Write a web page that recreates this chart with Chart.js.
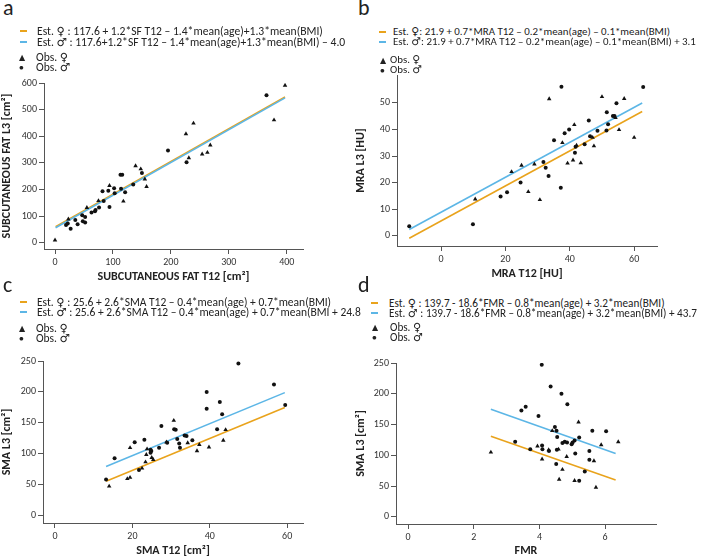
<!DOCTYPE html>
<html>
<head>
<meta charset="utf-8">
<script src="https://cdn.jsdelivr.net/npm/chart.js@4.4.1/dist/chart.umd.min.js"></script>
<style>
  body { margin: 0; width: 708px; height: 556px; position: relative; overflow: hidden; background: #fff;
         font-family: Carlito, Lato, "DejaVu Sans", sans-serif; color: #222; }
  canvas { position: absolute; }
  .letter { position: absolute; font-size: 22px; line-height: 22px; }
  .row { position: absolute; font-size: 11.6px; line-height: 12px; white-space: nowrap; }
  .dash { position: absolute; width: 7px; height: 2px; }
  .mark { position: absolute; font-size: 8px; line-height: 12px; }
</style>
</head>
<body>
<canvas id="chartA"></canvas>
<canvas id="chartB"></canvas>
<canvas id="chartC"></canvas>
<canvas id="chartD"></canvas>
<script>
// ---- panel a : subcutaneous fat ----
const aObsFemale = [[0,10],[23,89],[55,132],[75,158],[94,215],[118,156],[139,289],[148,277],[155,239],[158,211],
  [226,409],[231,319],[239,449],[254,333],[263,339],[268,367],[378,461],[397,591]];
const aObsMale = [[19,67],[22,73],[27,53],[35,86],[39,70],[47,104],[48,81],[52,76],[52,97],[63,114],[69,119],[70,123],
  [76,133],[82,194],[84,157],[92,196],[94,135],[102,205],[103,186],[114,203],[113,256],[116,256],[121,190],[135,219],
  [150,262],[195,347],[227,303],[365,554]];
const aEstX = [1, 397];
const aEstFemale = [61, 548];
const aEstMale = [57, 544];
const aXTicks = [0, 100, 200, 300, 400];
const aYTicks = [0, 100, 200, 300, 400, 500, 600];

// ---- panel b : muscle radiation attenuation ----
const bObsFemale = [[10.6,13.8],[21.9,24.1],[25,26.5],[27.1,16.6],[29,27],[30.7,13.6],[33.6,51.5],[37.7,35],[39.3,27.3],
  [41,28.5],[41.4,41.8],[42.1,34],[43.4,27.4],[47.1,37],[47.5,33.8],[50,52.3],[54.2,44.4],[55.3,39.9],[56.9,51.6],[60,37]];
const bObsMale = [[-9.9,3.6],[9.9,4.4],[18.5,14.8],[20.5,16.4],[24.7,20.1],[31.8,27.8],[32.5,25.6],[33.4,22.5],[35.1,36],
  [37.2,18.1],[37.4,56.1],[38.4,38.6],[39.8,40],[41.6,31.3],[41.8,33.5],[44.6,34.5],[45.9,43.4],[46.3,37.5],[48.6,39.5],
  [51.4,39.6],[51.5,46.5],[51.9,42],[53.4,45.1],[53.9,45.1],[54.5,49.9],[62.8,56]];
const bEstX = [-9.9, 62.5];
const bEstFemale = [-0.9, 46.8];
const bEstMale = [2.4, 50];
const bXTicks = [0, 20, 40, 60];
const bYTicks = [0, 10, 20, 30, 40, 50];

// ---- panel c : skeletal muscle area ----
const cObsFemale = [[14,48],[18.7,60],[19.4,62],[19.4,110],[22.5,77],[23.4,87],[23.6,99],[23.8,108],[25,94],[25.4,91],
  [28.8,119],[30.7,154],[34.3,118],[36.7,105],[37.3,115],[39.8,111],[43.5,122],[44.1,139]];
const cObsMale = [[13.2,59],[15.4,93],[20.6,119],[21.7,74],[23.1,123],[24.7,107],[24.9,105],[24.7,102],[26.9,110],
  [27.5,145],[29,118],[30.8,140],[31.2,139],[31.6,124],[32.1,117],[32.3,110],[33.5,130],[34,129],[35.5,122],[39.2,200],
  [39.2,173],[41.9,140],[42.6,184],[43.2,164],[47.4,246],[56.6,212],[59.5,179]];
const cEstX = [13.2, 59.4];
const cEstFemale = [56, 175];
const cEstMale = [80, 199];
const cXTicks = [0, 20, 40, 60];
const cYTicks = [0, 50, 100, 150, 200, 250];

// ---- panel d : fat muscle ratio ----
const dObsFemale = [[2.52,105],[3.94,115],[4.08,94],[4.28,109],[4.39,140],[4.58,110],[4.6,61],[4.7,77],[4.83,98],
  [5.07,59],[5.19,154],[5.66,91],[5.72,48],[5.88,117],[6.4,122]];
const dObsMale = [[3.26,122],[3.45,173],[3.58,179],[3.72,110],[3.97,164],[4.07,247],[4.08,116],[4.09,110],[4.29,107],
  [4.34,212],[4.47,146],[4.51,86],[4.52,140],[4.54,130],[4.53,109],[4.67,200],[4.7,120],[4.77,122],[4.84,121],[4.85,183],
  [4.98,118],[5.01,121],[5.07,124],[5.09,103],[5.21,129],[5.21,59],[5.38,74],[5.52,107],[5.52,93],[5.61,140],[6.03,139]];
const dEstX = [2.52, 6.32];
const dEstFemale = [131, 60];
const dEstMale = [175, 103];
const dXTicks = [0, 2, 4, 6];
const dYTicks = [0, 50, 100, 150, 200, 250];

const legendA = ['Est. \u2640 : 117.6 + 1.2*SF T12 \u2013 1.4*mean(age)+1.3*mean(BMI)',
  'Est. \u2642 : 117.6+1.2*SF T12 \u2013 1.4*mean(age)+1.3*mean(BMI) \u2013 4.0'];
const legendB = ['Est. \u2640: 21.9 + 0.7*MRA T12 \u2013 0.2*mean(age) \u2013 0.1*mean(BMI)',
  'Est. \u2642: 21.9 + 0.7*MRA T12 \u2013 0.2*mean(age) \u2013 0.1*mean(BMI) + 3.1'];
const legendC = ['Est. \u2640 : 25.6 + 2.6*SMA T12 \u2013 0.4*mean(age) + 0.7*mean(BMI)',
  'Est. \u2642 : 25.6 + 2.6*SMA T12 \u2013 0.4*mean(age) + 0.7*mean(BMI + 24.8'];
const legendD = ['Est. \u2640 : 139.7 - 18.6*FMR \u2013 0.8*mean(age) + 3.2*mean(BMI)',
  'Est. \u2642 : 139.7 - 18.6*FMR \u2013 0.8*mean(age) + 3.2*mean(BMI) + 43.7'];

const ORANGE = '#E9A31C';
const BLUE = '#5CB6E6';
const AXIS = '#555';
const FONT = 'Carlito, Lato, sans-serif';

function toPoints(pairs) {
  return pairs.map(([x, y]) => ({ x, y }));
}

function toLine(xs, ys) {
  return xs.map((x, i) => ({ x, y: ys[i] }));
}

function axis(min, max, ticks, title, fitSize, isX) {
  return {
    type: 'linear',
    position: isX ? 'bottom' : 'left',
    min: min,
    max: max,
    afterBuildTicks: scale => { scale.ticks = ticks.map(v => ({ value: v })); },
    afterFit: scale => { if (isX) scale.height = fitSize; else scale.width = fitSize; },
    border: { display: true, color: AXIS, width: 1 },
    grid: { drawOnChartArea: false, drawTicks: true, tickLength: 5, color: AXIS },
    ticks: { autoSkip: false, maxRotation: 0, padding: 2, color: '#333', font: { family: FONT, size: 10 } },
    title: { display: true, text: title, color: '#222', padding: 0, font: { family: FONT, size: 12, weight: 'bold' } }
  };
}

// box = canvas position on the page, area = wanted plot area on the page
function buildPanel(id, box, area, yW, xH, p) {
  const el = document.getElementById(id);
  el.style.left = box.left + 'px';
  el.style.top = box.top + 'px';
  el.width = box.width;
  el.height = box.height;
  return new Chart(el, {
    type: 'scatter',
    data: {
      datasets: [
        { data: toPoints(p.female), pointStyle: 'triangle', pointRadius: 2.6, backgroundColor: '#111', borderWidth: 0 },
        { data: toPoints(p.male), pointStyle: 'circle', pointRadius: 2, backgroundColor: '#111', borderWidth: 0 },
        { data: toLine(p.estX, p.estMale), showLine: true, borderColor: BLUE, borderWidth: 1.6, pointRadius: 0 },
        { data: toLine(p.estX, p.estFemale), showLine: true, borderColor: ORANGE, borderWidth: 1.6, pointRadius: 0 }
      ]
    },
    options: {
      responsive: false,
      animation: false,
      devicePixelRatio: 1,
      layout: {
        padding: {
          left: area.left - box.left - yW,
          top: area.top - box.top,
          right: box.left + box.width - area.right,
          bottom: box.top + box.height - area.bottom - xH
        }
      },
      plugins: { legend: { display: false }, tooltip: { enabled: false } },
      scales: {
        x: axis(p.xRange[0], p.xRange[1], p.xTicks, p.xTitle, xH, true),
        y: axis(p.yRange[0], p.yRange[1], p.yTicks, p.yTitle, yW, false)
      }
    }
  });
}

function addText(cls, left, top, text, size) {
  const div = document.createElement('div');
  div.className = cls;
  div.style.left = left + 'px';
  div.style.top = top + 'px';
  if (size) div.style.fontSize = size + 'px';
  div.textContent = text;
  document.body.appendChild(div);
}

// rows = centre y of the four legend rows
function addLegend(texts, dashX, textX, markX, obsX, rows, size) {
  [ORANGE, BLUE].forEach((color, i) => {
    const dash = document.createElement('div');
    dash.className = 'dash';
    dash.style.left = dashX + 'px';
    dash.style.top = (rows[i] - 1) + 'px';
    dash.style.background = color;
    document.body.appendChild(dash);
    addText('row', textX, rows[i] - 6, texts[i], size);
  });
  addText('mark', markX, rows[2] - 6, '\u25B2');
  addText('row', obsX, rows[2] - 6, 'Obs. \u2640', size);
  addText('mark', markX, rows[3] - 6, '\u25CF');
  addText('row', obsX, rows[3] - 6, 'Obs. \u2642', size);
}

buildPanel('chartA', { left: 0, top: 70, width: 354, height: 230 }, { left: 44, top: 83, right: 303, bottom: 249 }, 44, 35, {
  female: aObsFemale, male: aObsMale, estX: aEstX, estFemale: aEstFemale, estMale: aEstMale,
  xRange: [-19, 428], yRange: [-23, 600], xTicks: aXTicks, yTicks: aYTicks,
  xTitle: 'SUBCUTANEOUS FAT T12 [cm\u00B2]', yTitle: 'SUBCUTANEOUS FAT L3 [cm\u00B2]'
});
buildPanel('chartB', { left: 354, top: 62, width: 354, height: 230 }, { left: 397, top: 75, right: 657, bottom: 246 }, 43, 35, {
  female: bObsFemale, male: bObsMale, estX: bEstX, estFemale: bEstFemale, estMale: bEstMale,
  xRange: [-13.7, 67.1], yRange: [-3.8, 60.5], xTicks: bXTicks, yTicks: bYTicks,
  xTitle: 'MRA T12 [HU]', yTitle: 'MRA L3 [HU]'
});
buildPanel('chartC', { left: 0, top: 348, width: 354, height: 212 }, { left: 43, top: 361, right: 303, bottom: 523 }, 43, 35, {
  female: cObsFemale, male: cObsMale, estX: cEstX, estFemale: cEstFemale, estMale: cEstMale,
  xRange: [-3.1, 64.1], yRange: [-11.3, 250], xTicks: cXTicks, yTicks: cYTicks,
  xTitle: 'SMA T12 [cm\u00B2]', yTitle: 'SMA L3 [cm\u00B2]'
});
buildPanel('chartD', { left: 354, top: 348, width: 354, height: 212 }, { left: 396, top: 363, right: 656, bottom: 524 }, 42, 34, {
  female: dObsFemale, male: dObsMale, estX: dEstX, estFemale: dEstFemale, estMale: dEstMale,
  xRange: [-0.37, 7.55], yRange: [-11.4, 250], xTicks: dXTicks, yTicks: dYTicks,
  xTitle: 'FMR', yTitle: 'SMA L3 [cm\u00B2]'
});

addText('letter', 3, -3, 'a');
addText('letter', 358, -3, 'b');
addText('letter', 3, 274, 'c');
addText('letter', 358, 274, 'd');

addLegend(legendA, 20, 37, 19, 36, [31, 42, 57, 67], 11.6);
addLegend(legendB, 379, 393, 380, 390, [32, 42, 60, 70], 10.9);
addLegend(legendC, 20, 37, 19, 36, [302, 312, 328, 338], 11.5);
addLegend(legendD, 371, 389, 372, 390, [303, 313, 327, 337], 11.2);
</script>
</body>
</html>
